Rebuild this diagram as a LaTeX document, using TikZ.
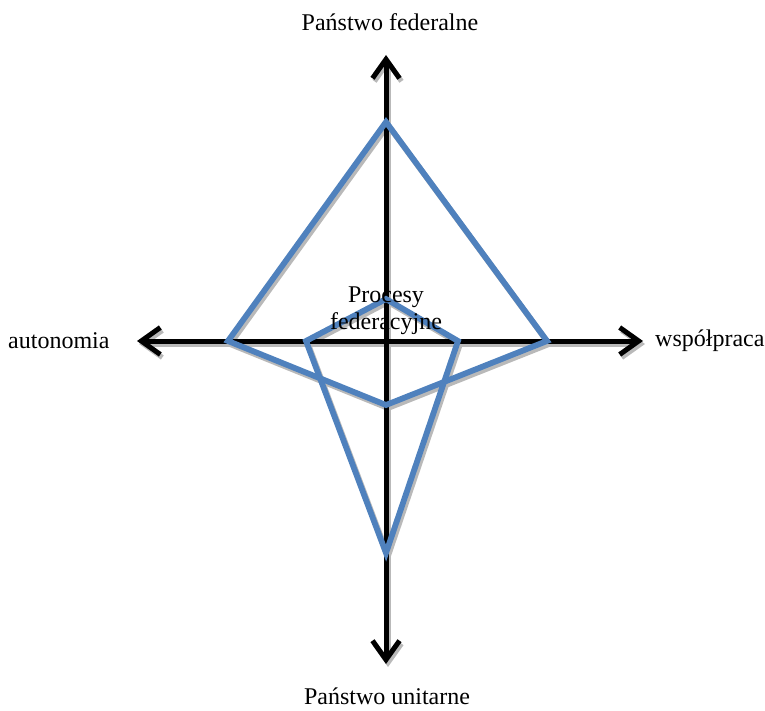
\documentclass[tikz,border=0pt]{standalone}
\usepackage{fontspec}
\setmainfont{Liberation Serif}
\usetikzlibrary{arrows.meta}
\definecolor{kiteblue}{RGB}{79,129,189}
\definecolor{shadowgrey}{RGB}{185,185,185}
\begin{document}
\begin{tikzpicture}[x=1pt,y=-1pt,
  axis/.style={line width=5pt,-{Straight Barb[length=19pt,width=27pt,line width=5pt]},line cap=round},
  axisshadow/.style={axis,draw=shadowgrey,transform canvas={shift={(2pt,-3pt)}}},
  kite/.style={draw=kiteblue,line width=5.8pt,line join=miter},
  kiteshadow/.style={draw=shadowgrey,line width=5.8pt,line join=miter,transform canvas={shift={(2pt,-3pt)}}},
  lab/.style={font=\fontsize{24}{28}\selectfont,inner sep=0pt}]
\useasboundingbox (0,0) rectangle (765,711);
% coordinates
\coordinate (c) at (386,341);
\coordinate (up) at (386,55);
\coordinate (down) at (386,664);
\coordinate (left) at (137,341);
\coordinate (right) at (643,341);
\coordinate (A1) at (386,122);
\coordinate (A2) at (547,341);
\coordinate (A3) at (386,405);
\coordinate (A4) at (228,341);
\coordinate (B1) at (386,299);
\coordinate (B2) at (458,341);
\coordinate (B3) at (386,553);
\coordinate (B4) at (306,341);
% shadows
\draw[kiteshadow] (A1) -- (A2) -- (A3) -- (A4) -- cycle;
\draw[kiteshadow] (B1) -- (B2) -- (B3) -- (B4) -- cycle;
\draw[axisshadow] (c) -- (up);
\draw[axisshadow] (c) -- (down);
\draw[axisshadow] (c) -- (left);
\draw[axisshadow] (c) -- (right);
% axes
\draw[axis] (c) -- (up);
\draw[axis] (c) -- (down);
\draw[axis] (c) -- (left);
\draw[axis] (c) -- (right);
% kites
\draw[kite] (A1) -- (A2) -- (A3) -- (A4) -- cycle;
\draw[kite] (B1) -- (B2) -- (B3) -- (B4) -- cycle;
% labels
\node[lab] (fed) at (390,22) {Państwo federalne};
\node[lab] (uni) at (387,696) {Państwo unitarne};
\node[lab,anchor=west] (aut) at (8,341) {autonomia};
\node[lab,anchor=west] (wsp) at (655,341) {współpraca};
\node[lab,align=center,font=\fontsize{24}{27}\selectfont] (proc) at (386,311) {Procesy\\federacyjne};
\end{tikzpicture}
\end{document}
